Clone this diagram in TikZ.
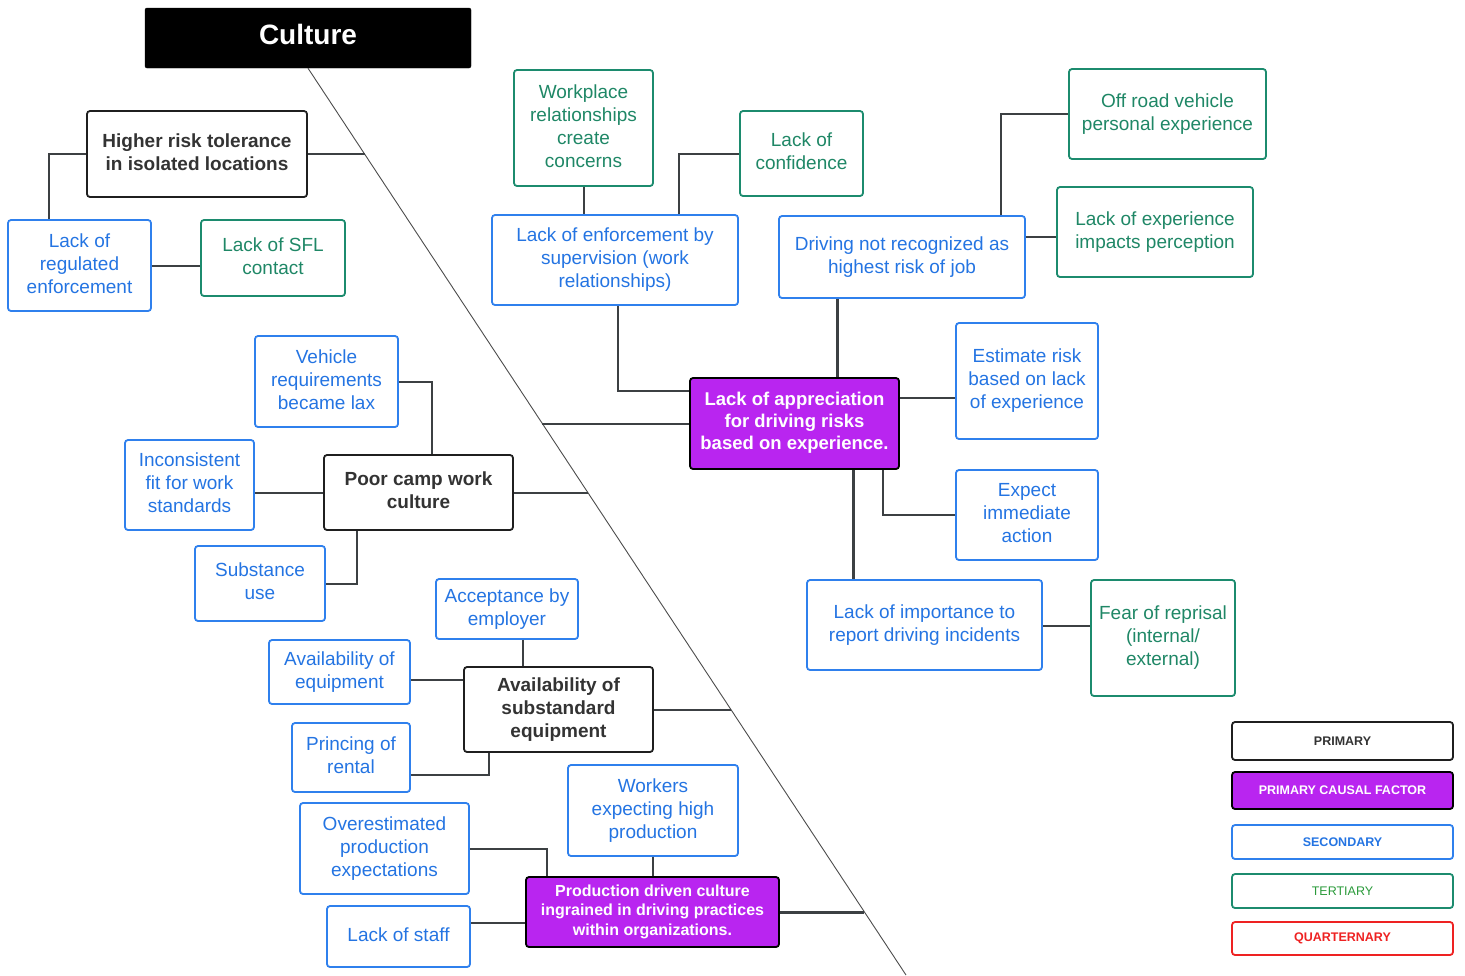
\documentclass[tikz,border=0pt]{standalone}
\usepackage{fontspec}
\setmainfont{Liberation Sans}
\definecolor{blueB}{HTML}{2F80ED}
\definecolor{blueT}{HTML}{2474E2}
\definecolor{greenB}{HTML}{1C8B6E}
\definecolor{greenT}{HTML}{1F8766}
\definecolor{greenL}{HTML}{2A9A3A}
\definecolor{purp}{HTML}{B925F0}
\definecolor{darkT}{HTML}{333333}
\definecolor{lineC}{HTML}{3C4043}
\definecolor{redC}{HTML}{EE2222}
\newcommand\dgfont{\fontsize{19}{23}\selectfont}
\begin{document}
\begin{tikzpicture}[x=1pt,y=-1pt,
  box/.style={draw, rounded corners=3pt, line width=1.8pt, align=center, inner sep=0pt, font=\dgfont,
    execute at end node={\rule[-4.5pt]{0pt}{4.5pt}}},
  prim/.style={box, draw=black!88, text=darkT, font=\dgfont\bfseries},
  sec/.style={box, draw=blueB, text=blueT},
  ter/.style={box, draw=greenB, text=greenT},
  cause/.style={box, draw=black, fill=purp, text=white, font=\fontsize{18.5}{22}\selectfont\bfseries},
  conn/.style={draw=lineC, line width=2pt},
  heavy/.style={draw=lineC, line width=3pt},
  spine/.style={draw=black!70, line width=0.9pt},
  legbox/.style={draw, rounded corners=3pt, line width=1.8pt, align=center, inner sep=0pt,
    minimum width=221, font=\fontsize{12.5}{15}\selectfont\bfseries}]
\useasboundingbox (0,0) rectangle (1465,975);

% head of the diagram
\node[draw=black, fill=black, rounded corners=2pt, minimum width=326, minimum height=60, inner sep=0pt,
  text height=20pt, text depth=8pt,
  text=white, font=\fontsize{28}{34}\selectfont\bfseries] (culture) at (308,38) {Culture};
\coordinate (spineEnd) at (906,975);
\draw[spine] (culture.south) -- (spineEnd);

% junctions on the spine
\coordinate (j1) at (364.7,154);
\coordinate (j2) at (542,423.5);
\coordinate (j3) at (588,492.5);
\coordinate (j4) at (731,709.5);
\coordinate (j5) at (864.4,912);

% upper left branch
\node[prim, minimum width=220, minimum height=86] (hrt) at (197,154) {Higher risk tolerance\\in isolated locations};
\node[sec, minimum width=143, minimum height=91] (lre) at (79.5,265.5) {Lack of\\regulated\\enforcement};
\node[ter, minimum width=144, minimum height=76] (sfl) at (273,258) {Lack of SFL\\contact};

% right branch
\node[ter, minimum width=139, minimum height=116] (wrc) at (583.5,128) {Workplace\\relationships\\create\\concerns};
\node[ter, minimum width=123, minimum height=85] (loc) at (801.5,153.5) {Lack of\\confidence};
\node[sec, minimum width=246, minimum height=90] (les) at (615,260) {Lack of enforcement by\\supervision (work\\relationships)};
\node[sec, minimum width=246, minimum height=82] (dnr) at (902,257) {Driving not recognized as\\highest risk of job};
\node[ter, minimum width=197, minimum height=90] (orv) at (1167.5,114) {Off road vehicle\\personal experience};
\node[ter, minimum width=196, minimum height=90] (lei) at (1155,232) {Lack of experience\\impacts perception};
\node[cause, minimum width=209, minimum height=91] (lad) at (794.5,423.5) {Lack of appreciation\\for driving risks\\based on experience.};
\node[sec, minimum width=142, minimum height=116] (erb) at (1027,381) {Estimate risk\\based on lack\\of experience};
\node[sec, minimum width=142, minimum height=90] (eia) at (1027,515) {Expect\\immediate\\action};
\node[sec, minimum width=235, minimum height=90] (lir) at (924.5,625) {Lack of importance to\\report driving incidents};
\node[ter, minimum width=144, minimum height=116] (fre) at (1163,638) {Fear of reprisal\\(internal/\\external)};

% middle left branch
\node[sec, minimum width=143, minimum height=91] (vrl) at (326.5,381.5) {Vehicle\\requirements\\became lax};
\node[sec, minimum width=129, minimum height=90] (ifw) at (189.5,485) {Inconsistent\\fit for work\\standards};
\node[prim, minimum width=189, minimum height=75] (pcw) at (418.5,492.5) {Poor camp work\\culture};
\node[sec, minimum width=130, minimum height=75] (sub) at (260,583.5) {Substance\\use};

% equipment branch
\node[sec, minimum width=142, minimum height=60] (abe) at (507,609) {Acceptance by\\employer};
\node[sec, minimum width=141, minimum height=64] (aoe) at (339.5,672) {Availability of\\equipment};
\node[prim, minimum width=189, minimum height=85] (ase) at (558.5,709.5) {Availability of\\substandard\\equipment};
\node[sec, minimum width=118, minimum height=69] (por) at (351,757.5) {Princing of\\rental};

% production branch
\node[sec, minimum width=169, minimum height=91] (ope) at (384.5,848.5) {Overestimated\\production\\expectations};
\node[sec, minimum width=170, minimum height=91] (weh) at (653,810.5) {Workers\\expecting high\\production};
\node[cause, minimum width=253, minimum height=70, execute at end node={},
  font=\fontsize{16}{19.5}\selectfont\bfseries] (pdc) at (652.5,912) {Production driven culture\\ingrained in driving practices\\within organizations.};
\node[sec, minimum width=143, minimum height=61] (los) at (398.5,936.5) {Lack of staff};

% connectors, upper left
\draw[conn] (hrt.east) -- (j1);
\draw[conn] (hrt.west) -| ([xshift=-30.5]lre.north);
\draw[conn] (lre.east) -- (lre.east -| sfl.west);

% connectors, right
\draw[conn] (wrc.south) -- (wrc.south |- les.north);
\draw[conn] (loc.west) -| ([xshift=64]les.north);
\draw[conn] ([xshift=3]les.south) |- ([yshift=32.5]lad.west);
\draw[heavy] ([xshift=-65]dnr.south) -- ([xshift=-65]dnr.south |- lad.north);
\draw[conn] ([xshift=99]dnr.north) |- (orv.west);
\draw[conn] ([yshift=20]dnr.east) -- ([yshift=20]dnr.east -| lei.west);
\draw[conn] (lad.west) -- (j2);
\draw[conn] ([yshift=25.5]lad.east) -- ([yshift=25.5]lad.east -| erb.west);
\draw[conn] ([xshift=88.5]lad.south) |- (eia.west);
\draw[heavy] ([xshift=58.5]lad.south) -- ([xshift=58.5]lad.south |- lir.north);
\draw[conn] ([yshift=-1]lir.east) -- ([yshift=-1]lir.east -| fre.west);

% connectors, middle left
\draw[conn] (vrl.east) -| ([xshift=13.5]pcw.north);
\draw[conn] (pcw.west) -- (pcw.west -| ifw.east);
\draw[conn] (pcw.east) -- (j3);
\draw[conn] ([xshift=-61.5]pcw.south) |- (sub.east);

% connectors, equipment
\draw[conn] ([xshift=16]abe.south) -- ([xshift=16]abe.south |- ase.north);
\draw[conn] ([yshift=-8]aoe.east) -- ([yshift=-8]aoe.east -| ase.west);
\draw[conn] (ase.east) -- (j4);
\draw[conn] ([xshift=-69.5]ase.south) |- ([yshift=-17.5]por.east);

% connectors, production
\draw[conn] (ope.east) -| ([xshift=-105.5]pdc.north);
\draw[conn] (weh.south) -- (weh.south |- pdc.north);
\draw[heavy] (pdc.east) -- (j5);
\draw[conn] ([yshift=-11]pdc.west) -- ([yshift=-11]pdc.west -| los.east);

% key
\node[legbox, draw=black!88, text=darkT, minimum height=38] (kp) at (1342.5,741) {PRIMARY};
\node[legbox, draw=black, fill=purp, text=white, minimum height=37] (kc) at (1342.5,790.5) {PRIMARY CAUSAL FACTOR};
\node[legbox, draw=blueB, text=blueT, minimum height=34] (ks) at (1342.5,842) {SECONDARY};
\node[legbox, draw=greenB, text=greenL, minimum height=34, font=\fontsize{12.5}{15}\selectfont] (kt) at (1342.5,891) {TERTIARY};
\node[legbox, draw=redC, text=redC, minimum height=33] (kq) at (1342.5,938.5) {QUARTERNARY};
\end{tikzpicture}
\end{document}
